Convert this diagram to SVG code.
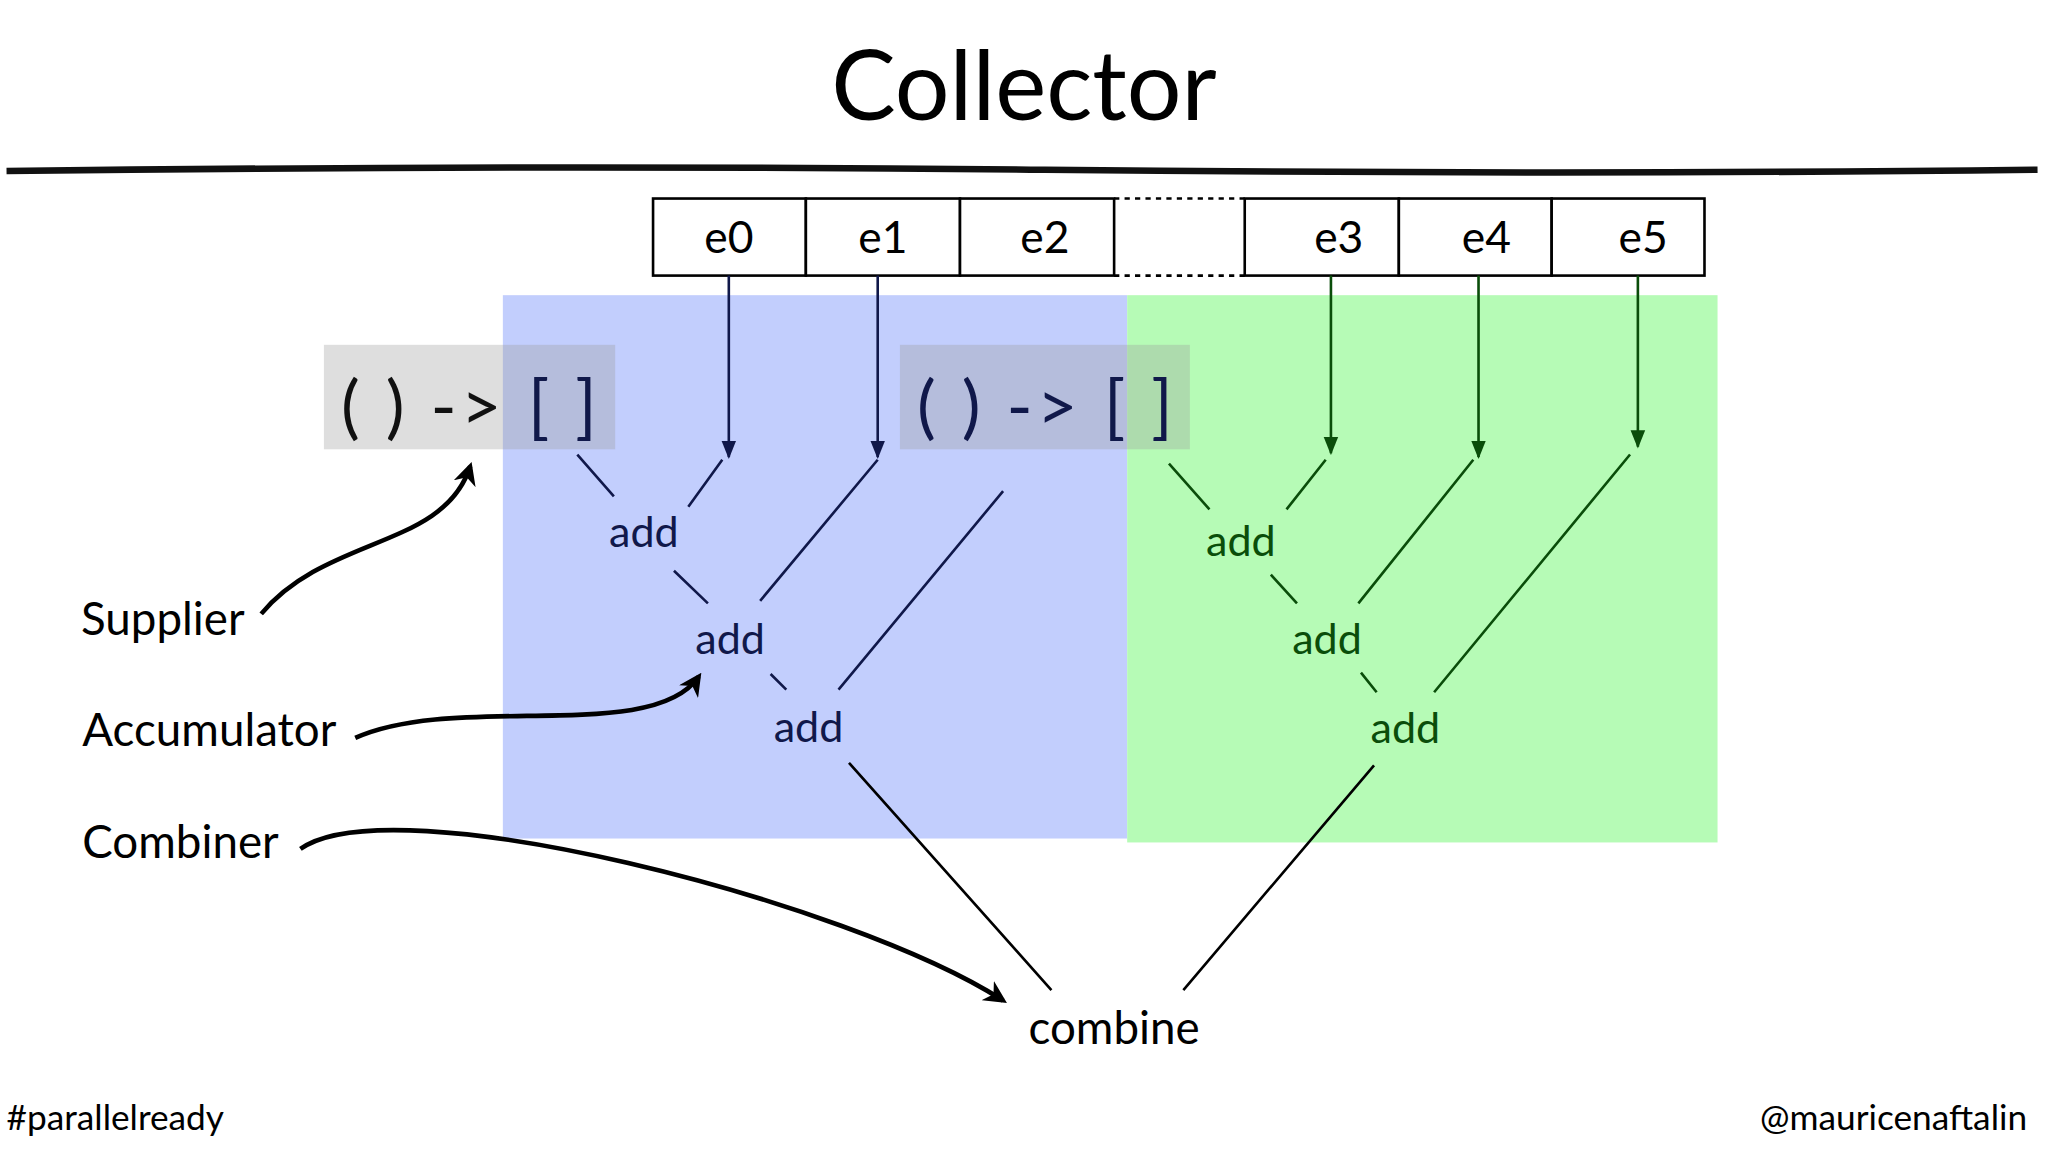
<svg xmlns="http://www.w3.org/2000/svg" width="2048" height="1152" viewBox="0 0 2048 1152">
<style>
text{font-family:Lato,"Open Sans","DejaVu Sans",sans-serif}
.lbl{font-size:35px;fill:#000}
.b{stroke:#10184a;stroke-width:2;fill:none}
.g{stroke:#0a4d0a;stroke-width:2;fill:none}
.k{stroke:#000;stroke-width:2;fill:none}
.bt{font-size:33px;fill:#10184a;text-anchor:middle}
.gt{font-size:33px;fill:#0a4d0a;text-anchor:middle}
.cell{fill:#fff;stroke:#000;stroke-width:2}
.ct{font-size:34px;text-anchor:middle;fill:#000}
.sup{font-family:Lato,"DejaVu Sans",sans-serif;font-size:54px}
.cur{stroke:#000;stroke-width:3.5;fill:none}
</style>
<defs>
<marker id="ab" viewBox="0 0 10 10" refX="9" refY="5" markerWidth="7" markerHeight="7" orient="auto"><path d="M0,1 L10,5 L0,9 z" fill="#10184a"/></marker>
<marker id="ag" viewBox="0 0 10 10" refX="9" refY="5" markerWidth="7" markerHeight="7" orient="auto"><path d="M0,1 L10,5 L0,9 z" fill="#0a4d0a"/></marker>
<marker id="ak" viewBox="0 0 10 10" refX="8" refY="5" markerWidth="5" markerHeight="5" orient="auto"><path d="M0,0 L10,5 L0,10 L3,5 z" fill="#000"/></marker>
</defs>
<rect width="2048" height="1152" fill="#fff"/>
<g transform="scale(1.30612)">
<g id="title"><text x="784" y="92" font-size="74" text-anchor="middle">Collector</text>
<path d="M5,131 Q400,126 800,130 T1560,130" stroke="#111" stroke-width="5" fill="none"/></g>
<g id="regions">
<rect x="385" y="226" width="478" height="416" fill="#c2cefd"/>
<rect x="863" y="226" width="452" height="419" fill="#b6fbb6"/>
</g>
<g id="stream">
<rect class="cell" x="500" y="152" width="117" height="59"/><text class="ct" x="558" y="194">e0</text>
<rect class="cell" x="617" y="152" width="118" height="59"/><text class="ct" x="676" y="194">e1</text>
<rect class="cell" x="735" y="152" width="118" height="59"/><text class="ct" x="800" y="194">e2</text>
<path d="M853,152 H953 M853,211 H953" stroke="#000" stroke-width="2" stroke-dasharray="4,4"/>
<rect class="cell" x="953" y="152" width="118" height="59"/><text class="ct" x="1025" y="194">e3</text>
<rect class="cell" x="1071" y="152" width="117" height="59"/><text class="ct" x="1138" y="194">e4</text>
<rect class="cell" x="1188" y="152" width="117" height="59"/><text class="ct" x="1258" y="194">e5</text>
</g>
<g id="supplier1"><rect x="248" y="264" width="223" height="80" fill="#9a9a9a" fill-opacity="0.33"/>
<text class="sup" x="261" y="330" fill="#111" textLength="196" lengthAdjust="spacing">( ) -&gt; <tspan fill="#10184a">[ ]</tspan></text></g>
<g id="supplier2"><rect x="689" y="264" width="222" height="80" fill="#9a9a9a" fill-opacity="0.33"/>
<text class="sup" x="702" y="330" fill="#10184a" textLength="196" lengthAdjust="spacing">( ) -&gt; [ ]</text></g>
<g id="connectors">
<path class="b" d="M558,211 V350" marker-end="url(#ab)"/>
<path class="b" d="M672,211 V350" marker-end="url(#ab)"/>
<path class="g" d="M1019,211 V347" marker-end="url(#ag)"/>
<path class="g" d="M1132,211 V350" marker-end="url(#ag)"/>
<path class="g" d="M1254,211 V342" marker-end="url(#ag)"/>
<path class="b" d="M442,348 L470,380 M553,352 L527,388 M516,437 L542,462 M672,352 L582,460 M590,516 L602,528 M768,376 L642,528"/>
<path class="g" d="M895,355 L926,390 M1015,352 L985,390 M973,440 L993,462 M1128,352 L1040,462 M1042,515 L1054,530 M1248,348 L1098,530"/>
<path class="k" d="M650,584 L805,758 M1052,586 L906,758"/>
<path class="cur" d="M200,470 C250,410 340,420 360,357" marker-end="url(#ak)"/>
<path class="cur" d="M272,565 C350,530 500,570 535,518" marker-end="url(#ak)"/>
<path class="cur" d="M230,650 C300,600 650,690 768,766" marker-end="url(#ak)"/>
</g>
<g id="adds">
<text class="bt" x="493" y="419">add</text>
<text class="bt" x="559" y="501">add</text>
<text class="bt" x="619" y="568">add</text>
<text class="gt" x="950" y="426">add</text>
<text class="gt" x="1016" y="501">add</text>
<text class="gt" x="1076" y="569">add</text>
<text x="853" y="799" font-size="35" text-anchor="middle">combine</text>
</g>
<g id="labels">
<text class="lbl" x="62" y="486">Supplier</text>
<text class="lbl" x="63" y="571">Accumulator</text>
<text class="lbl" x="63" y="657">Combiner</text>
<text x="5" y="865" font-size="27">#parallelready</text>
<text x="1552" y="865" font-size="27" text-anchor="end">@mauricenaftalin</text>
</g>
</g>
</svg>
